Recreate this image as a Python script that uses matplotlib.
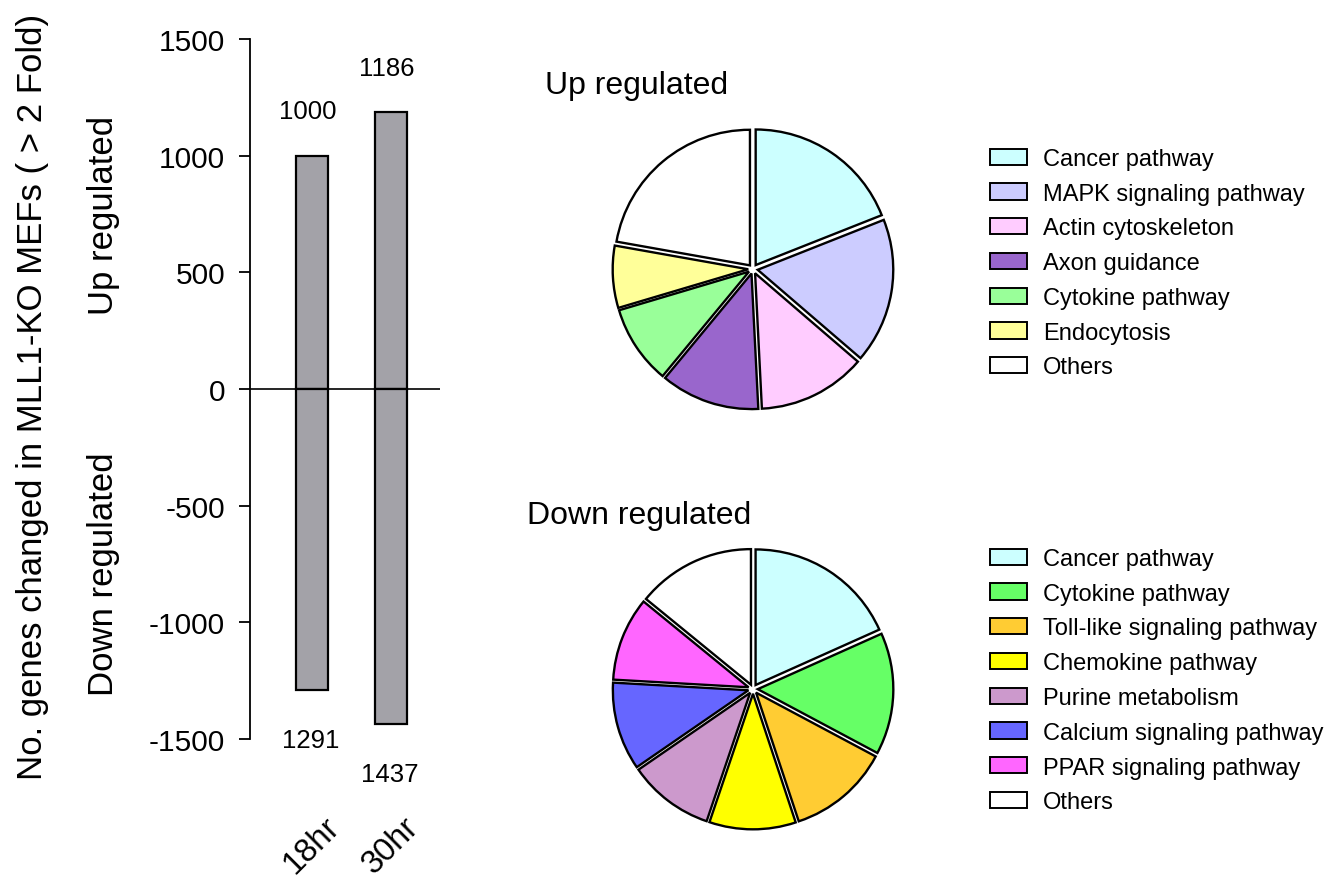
import matplotlib
matplotlib.use("Agg")
import matplotlib.pyplot as plt
from matplotlib.patches import Patch

plt.rcParams['font.family'] = ['Liberation Sans', 'DejaVu Sans']
plt.rcParams['axes.unicode_minus'] = False

# Bar chart data: genes changed at each time point
timepoints = ["18hr", "30hr"]
up_counts = [1000, 1186]
down_counts = [-1291, -1437]

# Pathway breakdown (% of genes) for up- and down-regulated sets
up_labels = ["Cancer pathway", "MAPK signaling pathway", "Actin cytoskeleton",
             "Axon guidance", "Cytokine pathway", "Endocytosis", "Others"]
up_share = [19.0, 17.3, 12.9, 11.8, 9.4, 7.4, 22.2]
up_colors = ["#CCFFFF", "#CCCCFF", "#FFCCFF", "#9966CC", "#99FF99", "#FFFF99", "#FFFFFF"]

down_labels = ["Cancer pathway", "Cytokine pathway", "Toll-like signaling pathway",
               "Chemokine pathway", "Purine metabolism", "Calcium signaling pathway",
               "PPAR signaling pathway", "Others"]
down_share = [18.3, 14.5, 12.1, 10.3, 10.2, 10.5, 10.0, 14.1]
down_colors = ["#CCFFFF", "#66FF66", "#FFCC33", "#FFFF00", "#CC99CC", "#6666FF", "#FF66FF", "#FFFFFF"]

W, H = 1338, 878
fig = plt.figure(figsize=(W / 100, H / 100), dpi=100)


def px_box(x0, y0, x1, y1):
    """Convert a pixel box (top-left origin) into figure fractions."""
    return [x0 / W, 1 - y1 / H, (x1 - x0) / W, (y1 - y0) / H]


# ---- bar chart ----
ax = fig.add_axes(px_box(250, 40, 440, 740))
xpos = [0, 1]
bar_kw = dict(width=0.405, color="#A3A2A8", edgecolor="black", linewidth=1.6, zorder=2)
ax.bar(xpos, up_counts, **bar_kw)
ax.bar(xpos, down_counts, **bar_kw)
ax.axhline(0, color="black", linewidth=1.2, zorder=3)
ax.set_xlim(-0.785, 1.62)
ax.set_ylim(-1500, 1500)
ax.set_yticks([-1500, -1000, -500, 0, 500, 1000, 1500])
ax.tick_params(axis="y", direction="out", length=8, width=1.3, labelsize=21.5, pad=10)
for s in ["top", "right", "bottom"]:
    ax.spines[s].set_visible(False)
ax.spines["left"].set_linewidth(1.3)
ax.set_xticks(xpos)
ax.set_xticklabels(timepoints, rotation=45, ha="center", va="top", fontsize=23.5)
ax.tick_params(axis="x", length=0, pad=52)

for x, v in zip(xpos, up_counts):
    ax.annotate(f"{v}", (x, v), xytext=(-3, 32), textcoords="offset points",
                ha="center", va="center", fontsize=18.5)
for x, v in zip(xpos, down_counts):
    ax.annotate(f"{abs(v)}", (x, v), xytext=(-1, -36), textcoords="offset points",
                ha="center", va="center", fontsize=18.5)

fig.text(33 / W, 1 - 397 / H, "No. genes changed in MLL1-KO MEFs ( > 2 Fold)",
         rotation=90, ha="center", va="center", fontsize=25)
fig.text(103 / W, 1 - 215 / H, "Up regulated", rotation=90, ha="center", va="center", fontsize=25)
fig.text(103 / W, 1 - 574 / H, "Down regulated", rotation=90, ha="center", va="center", fontsize=25)


# ---- pie charts ----
def draw_pie(cx, cy, shares, colors, labels, title, title_xy, legend_xy):
    r_px = 141
    lim = 1.04 * 160 / r_px
    pax = fig.add_axes(px_box(cx - 160, cy - 160, cx + 160, cy + 160))
    pax.pie(shares, colors=colors, startangle=90, counterclock=False,
            explode=[0.035] * len(shares),
            wedgeprops=dict(edgecolor="black", linewidth=1.7))
    pax.set_xlim(-lim, lim)
    pax.set_ylim(-lim, lim)
    pax.set_aspect("equal")
    pax.axis("off")
    fig.text(title_xy[0] / W, 1 - title_xy[1] / H, title, ha="left", va="center", fontsize=23)
    handles = [Patch(facecolor=c, edgecolor="black", linewidth=1.4) for c in colors]
    fig.legend(handles, labels, loc="upper left",
               bbox_to_anchor=(legend_xy[0] / W, 1 - legend_xy[1] / H),
               frameon=False, fontsize=17, handlelength=1.57, handleheight=0.68,
               handletextpad=0.68, labelspacing=0.54, borderpad=0, borderaxespad=0)


draw_pie(753, 270, up_share, up_colors, up_labels, "Up regulated", (545, 86), (990, 149))
draw_pie(753, 690, down_share, down_colors, down_labels, "Down regulated", (527, 516), (990, 549))

fig.savefig("out.png", dpi=100)
